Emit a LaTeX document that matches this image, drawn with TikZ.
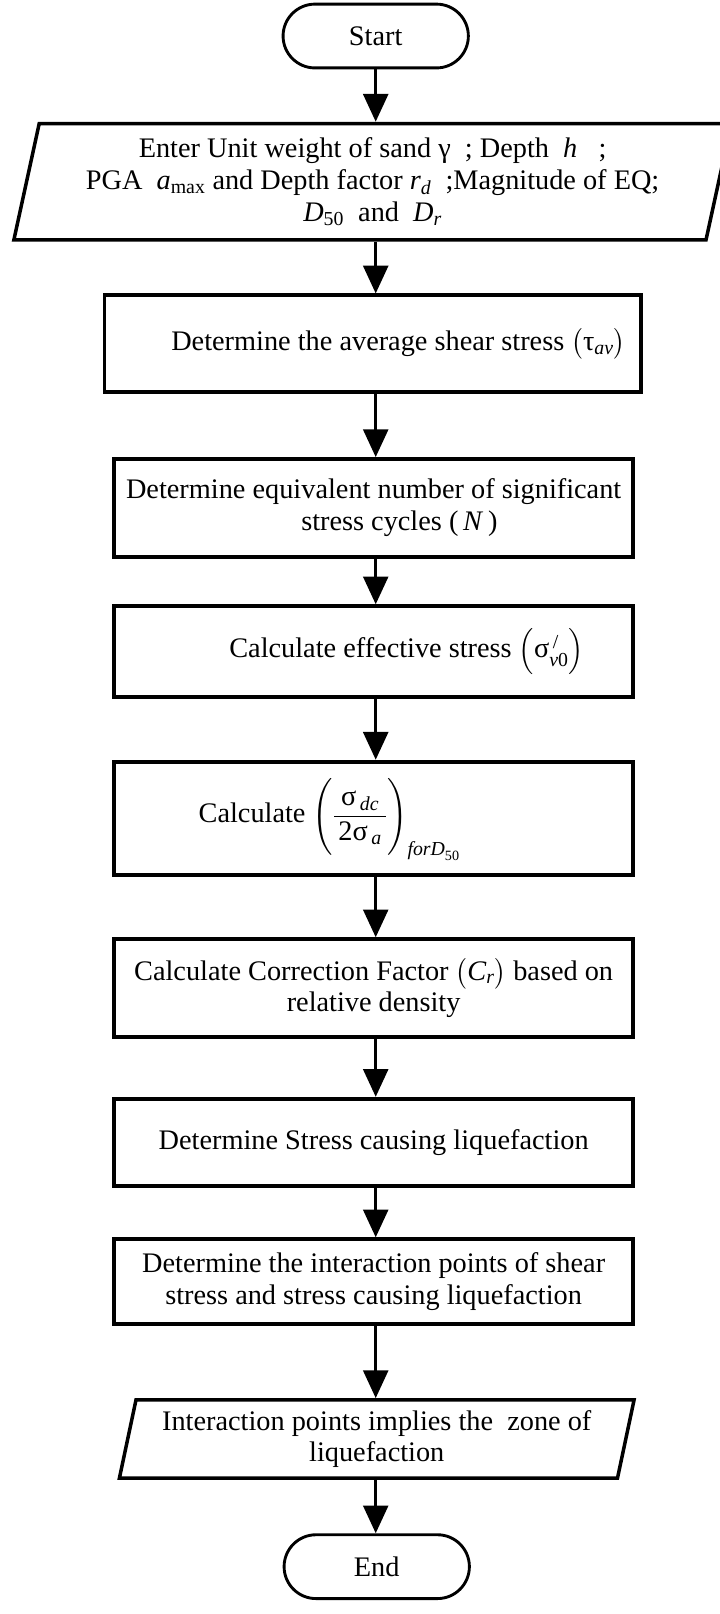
\documentclass[tikz,border=0pt]{standalone}
\usepackage{amsmath}
\usepackage{fontspec}
\setmainfont{Liberation Serif}
\usetikzlibrary{arrows.meta,shapes.geometric,shapes.misc}

\begin{document}
\begin{tikzpicture}[x=1pt,y=-1pt,
  font=\fontsize{27.5}{31}\selectfont,
  term/.style={draw,rounded rectangle,line width=2.8pt,minimum width=180pt,minimum height=62pt,inner sep=0pt},
  proc/.style={draw,rectangle,line width=3.8pt,minimum width=504pt,inner sep=0pt,align=center},
  io/.style={draw,trapezium,trapezium left angle=74,trapezium right angle=106,trapezium stretches body,line width=3.4pt,inner sep=0pt,align=center},
  flow/.style={line width=3.4pt,-{Triangle[width=24pt,length=27pt]}}]

  % page frame
  \useasboundingbox (0,0) rectangle (699,1568);

  % terminals and input
  \node[term] (start) at (365,35) {Start};
  \node[io,minimum width=697pt,minimum height=113pt] (input) at (362,176.5)
    {Enter Unit weight of sand γ\ \ ; Depth\ \ \textit{h}\ \ \ ;\\
     PGA\ \ \textit{a}\textsubscript{max} and Depth factor \textit{r}\textsubscript{\textit{d}}\ \ ;Magnitude of EQ;\\
     \textit{D}\textsubscript{50}\ \ and\ \ \textit{D}\textsubscript{\textit{r}}};

  % process boxes
  \node[proc,minimum width=521pt,minimum height=94pt] (avg) at (362,334)
    {\hspace*{50pt}Determine the average shear stress $\big($τ\textsubscript{\textit{av}}$\big)$};
  \node[proc,minimum height=95pt] (ncyc) at (363,493.5)
    {Determine equivalent number of significant\\ \hspace*{50pt}stress cycles (\,\textit{N}\,)};
  \node[proc,minimum height=88pt] (eff) at (363,633)
    {\hspace*{64pt}Calculate effective stress $\Big(\text{σ}^{\,\text{/}}_{\text{\itshape v\/\upshape 0}}\Big)$};
  \node[proc,minimum height=110pt] (ratio) at (363,795)
    {Calculate $\left(\rule[-30pt]{0pt}{76pt}\dfrac{\text{σ}_{\,\text{\itshape dc}}}{\,\text{2σ}_{\,\text{\itshape a}}\,}\right)_{\text{\itshape forD}_{\text{50}}}$\hspace*{86pt}};
  \node[proc,minimum height=95pt] (corr) at (363,960)
    {Calculate Correction Factor $\big(\textit{C}_{\text{\itshape r}}\big)$ based on\\ relative density};
  \node[proc,minimum height=85pt] (sliq) at (363,1110)
    {Determine Stress causing liquefaction};
  \node[proc,minimum height=82pt] (inter) at (363,1245)
    {Determine the interaction points of shear\\ stress and stress causing liquefaction};

  % output and end
  \node[io,minimum width=500pt,minimum height=76pt] (output) at (366,1398)
    {Interaction points implies the\ \ zone of\\ liquefaction};
  \node[term] (stop) at (366,1522) {End};

  % connectors
  \foreach \a/\b in {start/input,input/avg,avg/ncyc,ncyc/eff,eff/ratio,ratio/corr,corr/sliq,sliq/inter,inter/output,output/stop}
    \draw[flow] (\a.south -| start) -- (\b.north -| start);
\end{tikzpicture}
\end{document}
